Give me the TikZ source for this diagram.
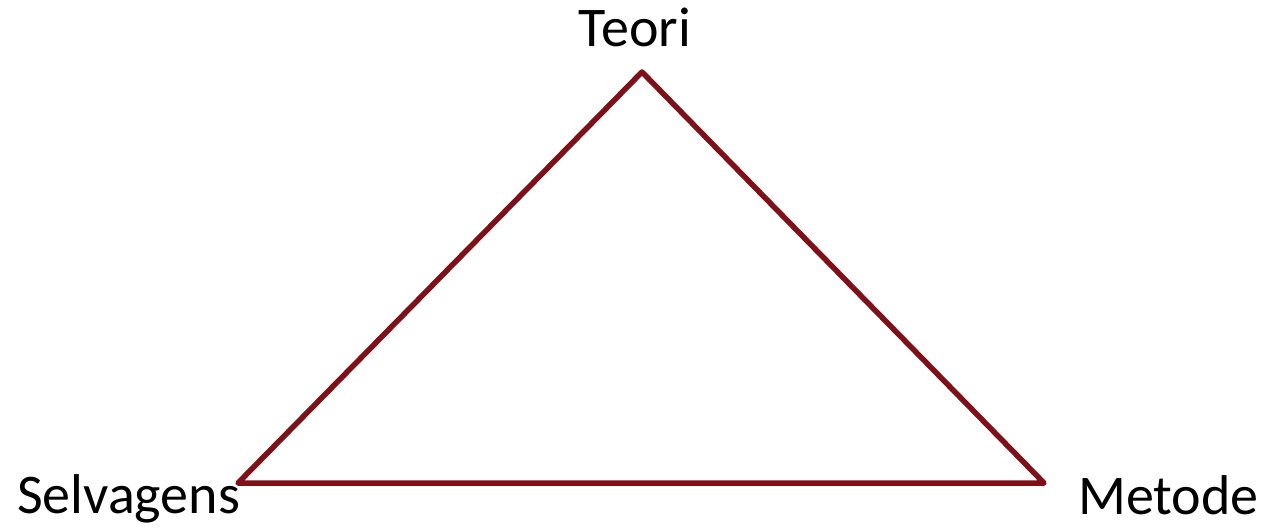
\documentclass[tikz,border=0pt]{standalone}
\usepackage{fontspec}
\setmainfont{Carlito}
\definecolor{tri}{HTML}{7F1017}
\tikzset{lbl/.style={inner sep=0pt,font=\fontsize{56}{62}\selectfont}}
\begin{document}
\begin{tikzpicture}[x=1pt,y=-1pt]
\useasboundingbox (0,0) rectangle (1267,529);
\coordinate (T) at (642,72);
\coordinate (S) at (238,483);
\coordinate (M) at (1044,483);
\draw[tri,line width=5.5pt,line join=round] (T) -- (M) -- (S) -- cycle;
\node[lbl,anchor=base] (teori) at (635,47) {Teori};
\node[lbl,anchor=base west] (selv) at (17,513) {Selvagens};
\node[lbl,anchor=base west] (met) at (1078,514) {Metode};
\end{tikzpicture}
\end{document}
